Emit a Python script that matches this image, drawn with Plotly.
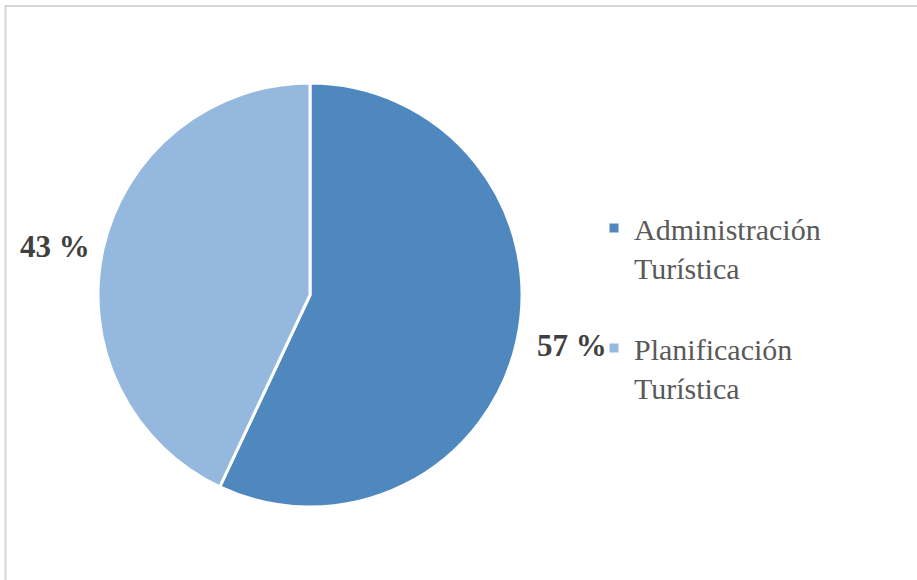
import math
import plotly.graph_objects as go

# Share of respondents by area of study
categories = ["Administración<br>Turística<br> ", "Planificación<br>Turística<br> "]
shares = [57, 43]
slice_text = [f"{v} %" for v in shares]
colors = ["#4F88BE", "#95B8DF"]

W, H = 917, 580

# Pie geometry in pixels
cx, cy, r = 310, 295, 212
gap_right, gap_left = 19, 11

fig = go.Figure(
    go.Pie(
        labels=categories,
        values=shares,
        textinfo="none",
        sort=False,
        direction="clockwise",
        rotation=0,
        marker=dict(colors=colors, line=dict(color="white", width=3)),
        domain=dict(x=[(cx - r) / W, (cx + r) / W], y=[(H - cy - r) / H, (H - cy + r) / H]),
        showlegend=True,
        hoverinfo="label+percent",
    )
)

# Percentage labels just outside each slice, at its mid-angle
total = sum(shares)
start = 0.0
for v, t in zip(shares, slice_text):
    mid = start + v / total / 2
    start += v / total
    ang = math.pi / 2 - 2 * math.pi * mid  # clockwise from 12 o'clock
    right = math.cos(ang) > 0
    rr = r + (gap_right if right else gap_left)
    ex = cx + rr * math.cos(ang)
    ey = cy - rr * math.sin(ang)
    fig.add_annotation(
        x=ex / W, y=1 - ey / H, xref="paper", yref="paper",
        text=f"<b>{t}</b>", showarrow=False,
        xanchor="left" if right else "right",
        yanchor="middle",
        font=dict(family="Liberation Serif", size=31, color="#404040"),
    )

# Chart frame (top and left edges visible)
fig.add_shape(
    type="rect", xref="paper", yref="paper",
    x0=5.5 / W, x1=1.05, y0=-0.05, y1=(H - 6) / H,
    line=dict(color="#d6d6d6", width=2),
)

fig.update_layout(
    width=W, height=H,
    margin=dict(l=0, r=0, t=0, b=0),
    paper_bgcolor="white",
    plot_bgcolor="white",
    legend=dict(
        x=594 / W, xanchor="left",
        y=(H - 202) / H, yanchor="top",
        valign="top",
        font=dict(family="Liberation Serif", size=30, color="#595959"),
        bgcolor="rgba(0,0,0,0)",
    ),
)

fig.write_html("out.html")
